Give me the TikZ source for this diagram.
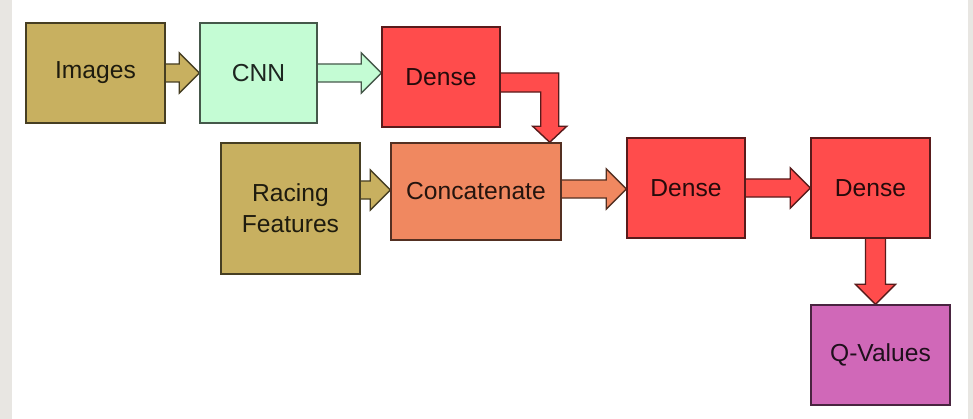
\documentclass[tikz,border=0pt]{standalone}
\usepackage{fontspec}
\setmainfont{Liberation Sans}
\usetikzlibrary{calc,backgrounds}
\definecolor{imgtan}{RGB}{200,176,96}
\definecolor{cnnmint}{RGB}{196,252,212}
\definecolor{densered}{RGB}{255,76,76}
\definecolor{concatorange}{RGB}{240,136,96}
\definecolor{qpurple}{RGB}{208,104,184}
\definecolor{sidegray}{RGB}{232,230,226}
\tikzset{
	netbox/.style={draw=#1!35!black, fill=#1, line width=1pt, text=#1!15!black, font=\fontsize{17.5}{22}\selectfont, align=center, inner sep=0pt},
	blockarrow/.style={draw=#1!35!black, fill=#1, line width=1pt, line join=miter}
}
\newcommand{\rightblock}[3]{%
	\filldraw[blockarrow=#3] let \p1=(#1), \p2=(#2) in
		(\x1-1pt,\y2+0.225cm) -- (\x2-0.5cm,\y2+0.225cm) -- (\x2-0.5cm,\y2+0.5cm) -- (\x2,\y2)
		-- (\x2-0.5cm,\y2-0.5cm) -- (\x2-0.5cm,\y2-0.225cm) -- (\x1-1pt,\y2-0.225cm) -- cycle;}
\begin{document}
\begin{tikzpicture}[x=0.025cm, y=-0.025cm]
			\useasboundingbox (0,0) rectangle (973,419);
			\node[netbox=imgtan, minimum width=3.475cm, minimum height=2.5cm] (images) at (95.5,73) {Images};
			\node[netbox=cnnmint, minimum width=2.925cm, minimum height=2.5cm] (cnn) at (258.5,73) {CNN};
			\node[netbox=densered, minimum width=2.95cm, minimum height=2.5cm] (densea) at (441,77) {Dense};
			\node[netbox=imgtan, minimum width=3.475cm, minimum height=3.275cm] (racing) at (290.5,208.5) {Racing\\Features};
			\node[netbox=concatorange, minimum width=4.25cm, minimum height=2.425cm] (concat) at (476,191.5) {Concatenate};
			\node[netbox=densered, minimum width=2.95cm, minimum height=2.5cm] (denseb) at (686,188) {Dense};
			\node[netbox=densered, minimum width=2.975cm, minimum height=2.5cm] (densec) at (870.5,188) {Dense};
			\node[netbox=qpurple, minimum width=3.475cm, minimum height=2.5cm] (qval) at (880.5,355) {Q-Values};
			\begin{scope}[on background layer]
				\fill[white] (0,0) rectangle (973,419);
				\fill[sidegray] (0,0) rectangle (12,419);
				\fill[sidegray] (968,0) rectangle (973,419);
				\rightblock{images.east}{cnn.west}{imgtan}
				\rightblock{cnn.east}{densea.west |- cnn.east}{cnnmint}
				\rightblock{racing.east}{concat.west |- 0,190}{imgtan}
				\rightblock{concat.east}{denseb.west |- 0,189}{concatorange}
				\rightblock{denseb.east}{densec.west}{densered}
				\filldraw[blockarrow=densered] let \p1=(densea.east), \p2=(concat.north east) in
					(\x1-1pt,\y1+0.1cm) -- (\x2-0.075cm,\y1+0.1cm) -- (\x2-0.075cm,\y2+0.4cm) -- (\x2+0.125cm,\y2+0.4cm)
					-- (\x2-0.3cm,\y2) -- (\x2-0.725cm,\y2+0.4cm) -- (\x2-0.525cm,\y2+0.4cm) -- (\x2-0.525cm,\y1-0.375cm)
					-- (\x1-1pt,\y1-0.375cm) -- cycle;
				\filldraw[blockarrow=densered] let \p1=(densec.south), \p2=(qval.north), \p3=($(densec.south)!0.5!(qval.north)$) in
					(\x3-0.25cm,\y1+1pt) -- (\x3-0.25cm,\y2+0.5cm) -- (\x3-0.5cm,\y2+0.5cm) -- (\x3,\y2)
					-- (\x3+0.5cm,\y2+0.5cm) -- (\x3+0.25cm,\y2+0.5cm) -- (\x3+0.25cm,\y1+1pt) -- cycle;
			\end{scope}
		\end{tikzpicture}
\end{document}
